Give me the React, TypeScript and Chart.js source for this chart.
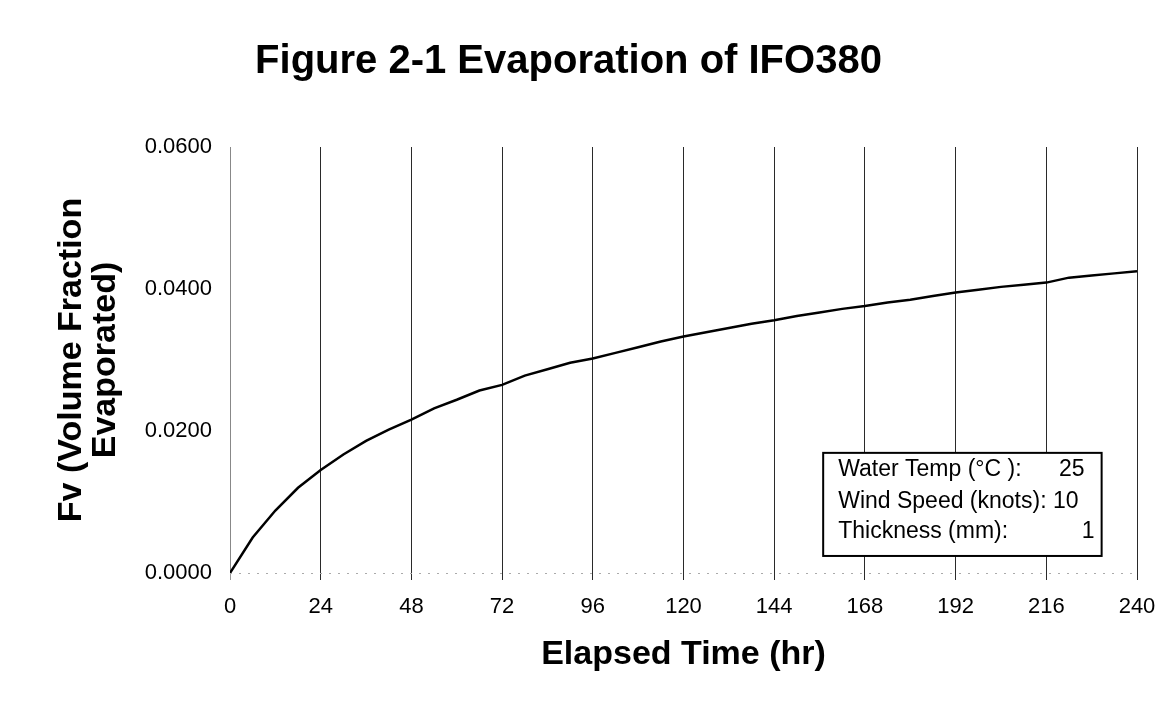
import React, { useEffect, useRef } from "react";
import { Chart, registerables } from "chart.js";

Chart.register(...registerables);

const FONT = "'Liberation Sans', Arial, Helvetica, sans-serif";

const chartTitle = "Figure 2-1 Evaporation of IFO380";
const xAxisTitle = "Elapsed Time (hr)";
const yAxisTitle = ["Fv (Volume Fraction", "Evaporated)"];

const elapsedHours = [
  0, 6, 12, 18, 24, 30, 36, 42, 48, 54, 60, 66, 72, 78, 84, 90, 96, 102, 108,
  114, 120, 126, 132, 138, 144, 150, 156, 162, 168, 174, 180, 186, 192, 198,
  204, 210, 216, 222, 228, 234, 240,
];

const fractionEvaporated = [
  0.0, 0.005, 0.0088, 0.012, 0.0145, 0.0167, 0.0186, 0.0202, 0.0216, 0.0232,
  0.0244, 0.0257, 0.0265, 0.0278, 0.0287, 0.0296, 0.0302, 0.031, 0.0318,
  0.0326, 0.0333, 0.0339, 0.0345, 0.0351, 0.0356, 0.0362, 0.0367, 0.0372,
  0.0376, 0.0381, 0.0385, 0.039, 0.0395, 0.0399, 0.0403, 0.0406, 0.0409,
  0.0416, 0.0419, 0.0422, 0.0425,
];

const xTickStep = 24;
const xRange = [0, 240];
const yTickStep = 0.02;
const yRange = [0, 0.06];

const paramNames = ["Water Temp (°C ):", "Wind Speed (knots):", "Thickness (mm):"];
const paramValues = ["25", "10", "1"];

const axisLinePlugin = {
  id: "dottedAxis",
  beforeDatasetsDraw(chart: any) {
    const { ctx, chartArea: a } = chart;
    ctx.save();
    ctx.strokeStyle = "#aaa";
    ctx.lineWidth = 1;
    ctx.setLineDash([2, 7]);
    ctx.beginPath();
    ctx.moveTo(a.left, a.bottom + 0.5);
    ctx.lineTo(a.right, a.bottom + 0.5);
    ctx.stroke();
    ctx.restore();
  },
};

const paramBoxPlugin = {
  id: "paramBox",
  afterDraw(chart: any) {
    const { ctx, chartArea: a } = chart;
    const w = a.right - a.left;
    const h = a.bottom - a.top;
    const L = a.left + w * 0.654;
    const R = a.left + w * 0.961;
    const T = a.top + h * 0.718;
    const B = a.top + h * 0.96;
    const bh = B - T;
    ctx.save();
    ctx.fillStyle = "#fff";
    ctx.fillRect(L, T, R - L, bh);
    ctx.strokeStyle = "#000";
    ctx.lineWidth = 2;
    ctx.strokeRect(L, T, R - L, bh);
    ctx.font = `23px ${FONT}`;
    ctx.fillStyle = "#000";
    ctx.textBaseline = "middle";
    const rowFrac = [0.165, 0.476, 0.767];
    paramNames.forEach((name, i) => {
      const y = T + bh * rowFrac[i];
      ctx.textAlign = "left";
      if (i === 1) {
        ctx.fillText(`${name} ${paramValues[i]}`, L + 15, y);
      } else {
        ctx.fillText(name, L + 15, y);
        ctx.textAlign = "right";
        ctx.fillText(paramValues[i], i === 0 ? R - 17 : R - 7, y);
      }
    });
    ctx.restore();
  },
};

export default function App() {
  const canvasRef = useRef<HTMLCanvasElement | null>(null);

  useEffect(() => {
    document.body.style.margin = "0";
    const canvas = canvasRef.current;
    if (!canvas) return;
    const chart = new Chart(canvas, {
      type: "line",
      data: {
        datasets: [
          {
            data: elapsedHours.map((hr, i) => ({ x: hr, y: fractionEvaporated[i] })),
            borderColor: "#000",
            borderWidth: 2.5,
            pointRadius: 0,
            tension: 0,
            fill: false,
          },
        ],
      },
      options: {
        animation: false,
        responsive: false,
        maintainAspectRatio: false,
        layout: { padding: { left: 0, right: 33, top: 0, bottom: 0 } },
        plugins: {
          legend: { display: false },
          tooltip: { enabled: false },
          title: {
            display: true,
            text: chartTitle,
            color: "#000",
            font: { family: FONT, size: 40, weight: "bold", lineHeight: 1.2 },
            padding: { top: 38, bottom: 61 },
          },
        },
        scales: {
          x: {
            type: "linear",
            min: xRange[0],
            max: xRange[1],
            ticks: {
              stepSize: xTickStep,
              color: "#000",
              font: { family: FONT, size: 22 },
              padding: 14,
              maxRotation: 0,
              autoSkip: false,
            },
            grid: {
              display: true,
              color: (c: any) => (c.index === 0 ? "#999" : "#2a2a2a"),
              lineWidth: 1,
              drawTicks: true,
              tickLength: 7,
            },
            border: { display: false },
            title: {
              display: true,
              text: xAxisTitle,
              color: "#000",
              font: { family: FONT, size: 34, weight: "bold", lineHeight: 1.2 },
              padding: { top: 0, bottom: 40 },
            },
            afterFit: (s: any) => {
              s.height = 142;
            },
          },
          y: {
            type: "linear",
            min: yRange[0],
            max: yRange[1],
            ticks: {
              stepSize: yTickStep,
              color: "#000",
              font: { family: FONT, size: 22 },
              padding: 18,
              callback: (v: any) => Number(v).toFixed(4),
            },
            grid: { display: false, drawTicks: false },
            border: { display: true, color: "#888" },
            title: {
              display: true,
              text: yAxisTitle,
              color: "#000",
              font: { family: FONT, size: 34, weight: "bold", lineHeight: 1.0 },
              padding: { top: 55, bottom: 0 },
            },
            afterFit: (s: any) => {
              s.width = 230;
            },
          },
        },
      },
      plugins: [axisLinePlugin, paramBoxPlugin],
    } as any);
    return () => chart.destroy();
  }, []);

  return (
    <div style={{ width: 1170, height: 715, background: "#fff" }}>
      <canvas ref={canvasRef} width={1170} height={715} style={{ display: "block" }} />
    </div>
  );
}
